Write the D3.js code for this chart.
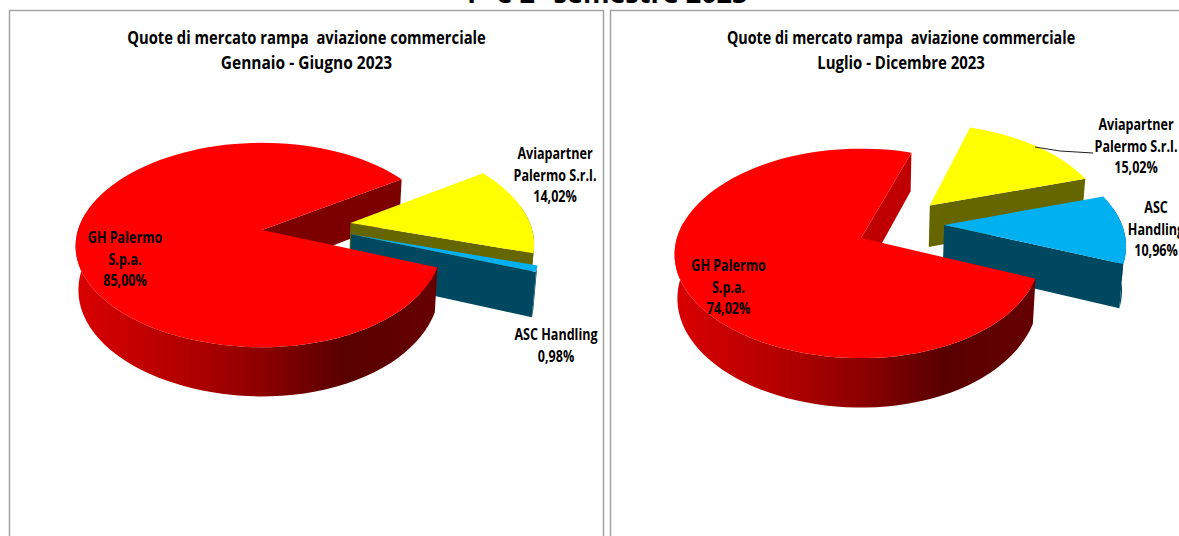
<!DOCTYPE html>
<html><head><meta charset="utf-8">
<script src="https://cdnjs.cloudflare.com/ajax/libs/d3/7.8.5/d3.min.js"></script>
<style>html,body{margin:0;padding:0;background:#fff;overflow:hidden}svg{display:block}
text{font-family:"Open Sans",sans-serif;font-weight:700;fill:#000;text-anchor:middle;white-space:pre}</style>
</head><body><svg id="c" width="1179" height="536"></svg>
<script>
const pageTitle = "1° e 2° semestre 2023";
const categories = ["GH Palermo S.p.a.", "Aviapartner Palermo S.r.l.", "ASC Handling"];
const valuesH1 = [85.00, 14.02, 0.98];
const valuesH2 = [74.02, 15.02, 10.96];
const sliceColors = ["#ff0000", "#ffff00", "#00b0f0"];
const wallColors = ["#7c0000", "#666600", "#004860"];
const wallStops = [[0,"#d80000"],[.3,"#b00000"],[.5,"#8c0000"],[.73,"#580000"],[1,"#680000"]];

const charts = [
 {id:"a", values:valuesH1, title:["Quote di mercato rampa  aviazione commerciale","Gennaio - Giugno 2023"],
  titleX:306.5, titleScale:[.845,.885], cx:262, cy:230, ry:100, start:110.8, innerWall:"#7c0000",
  explode:[[0,0],[.498,81.7],[.49,94.8]],
  labels:[[["GH Palermo","S.p.a.","85,00%"],125,243],[["Aviapartner","Palermo S.r.l.","14,02%"],555,159],[["ASC Handling","0,98%"],556,340]]},
 {id:"b", values:valuesH2, title:["Quote di mercato rampa  aviazione commerciale","Luglio - Dicembre 2023"],
  titleX:901, titleScale:[.82,.855], cx:861, cy:238, ry:102.5, start:112, innerWall:"#c00000",
  explode:[[0,0],[.518,50.2],[.485,74.4]],
  labels:[[["GH Palermo","S.p.a.","74,02%"],728.5,271],[["Aviapartner","Palermo S.r.l.","15,02%"],1136,130],[["ASC","Handling","10,96%"],1156,213]],
  leader:[[1035,147],[1060,151],[1093,153]]}
];

const R = 181.3, P = 0.147, SKEW = 0.03, DEPTH = 43, BX = 0.985, BY = 1.053;
const svg = d3.select("#c");
const rad = d => d*Math.PI/180;
const line = d3.line();
const defs = svg.append("defs");

// frames
svg.append("rect").attr("x",9.5).attr("y",10.5).attr("width",594).attr("height",560).attr("fill","none").attr("stroke","#a3a3a3").attr("stroke-width",1.5);
svg.append("rect").attr("x",610.5).attr("y",10.5).attr("width",700).attr("height",560).attr("fill","none").attr("stroke","#a3a3a3").attr("stroke-width",1.5);
function label(s,x,y,size,sx){
  svg.append("text").attr("transform",`translate(${x},${y}) scale(${sx},1)`).attr("font-size",size).text(s);
}
label(pageTitle,605,3,27,1);

charts.forEach(ch=>{
  const g = svg.append("g");
  const top = (X,Y,k)=>{const w=1+P*Y; return [ch.cx+R*(X-k*X*X*(1-Y)/2)/w, ch.cy-ch.ry*Y/w];};
  const bot = p=>[ch.cx+BX*(p[0]-ch.cx), ch.cy+BY*(p[1]-ch.cy)+DEPTH];
  const grad = defs.append("linearGradient").attr("id","w"+ch.id).attr("gradientUnits","userSpaceOnUse")
    .attr("x1",ch.cx-R).attr("x2",ch.cx+R).attr("y1",0).attr("y2",0);
  wallStops.forEach(s=>grad.append("stop").attr("offset",s[0]).attr("stop-color",s[1]));

  const arcs = d3.pie().sort(null).startAngle(rad(ch.start)).endAngle(rad(ch.start+360))(ch.values);
  const shapes = arcs.map((a,i)=>{
    const [d,dir] = ch.explode[i];
    const ox=d*Math.sin(rad(dir)), oy=d*Math.cos(rad(dir));
    const k=i===0?SKEW:0;
    const pt=t=>top(ox+Math.sin(t),oy+Math.cos(t),k);
    const apex=top(ox,oy,k);
    const ts=d3.range(0,97).map(n=>a.startAngle+(a.endAngle-a.startAngle)*n/96);
    const rim=ts.map(pt);
    const front=ts.filter(t=>Math.cos(t)<0.18).map(pt);
    return {i,apex,rim,front,pt,a};
  });
  const red=shapes[0], yel=shapes[1], blu=shapes[2];
  const quad=(p,q)=>line([p,q,bot(q),bot(p)])+"Z";
  const strip=pts=>line(pts.concat(pts.map(bot).reverse()))+"Z";
  const topFace=s=>line([s.apex].concat(s.rim))+"Z";

  // red inner wall: far side of the wedge gap
  g.append("path").attr("d",quad(red.apex,red.rim[red.rim.length-1])).attr("fill",ch.innerWall);
  [yel,blu].forEach(s=>{
    g.append("path").attr("d",quad(s.apex,s.rim[s.rim.length-1])).attr("fill",wallColors[s.i]);
    if(s.front.length>1) g.append("path").attr("d",strip(s.front)).attr("fill",wallColors[s.i]);
    g.append("path").attr("d",topFace(s)).attr("fill",sliceColors[s.i]);
  });
  g.append("path").attr("d",strip(red.front)).attr("fill",`url(#w${ch.id})`);
  g.append("path").attr("d",topFace(red)).attr("fill",sliceColors[0]);

  if(ch.leader) g.append("path").attr("d",line(ch.leader)).attr("fill","none").attr("stroke","#222").attr("stroke-width",1);

  ch.title.forEach((t,i)=>label(t,ch.titleX,44+i*25,17.5,ch.titleScale[i]));
  ch.labels.forEach(([lines,x,y])=>lines.forEach((t,i)=>label(t,x,y+i*21.7,15.5,0.81)));
});
</script></body></html>
